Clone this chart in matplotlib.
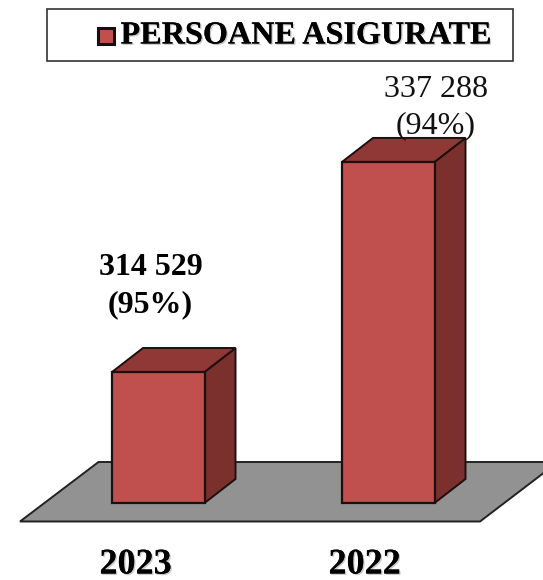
import matplotlib
matplotlib.use('Agg')
import matplotlib.pyplot as plt
import matplotlib.patheffects as pe
from matplotlib.patches import Polygon, Rectangle

plt.rcParams['font.family'] = ['Liberation Serif', 'DejaVu Serif']

years = ['2023', '2022']
values = [314529, 337288]
percents = ['95%', '94%']
series_name = 'PERSOANE ASIGURATE'

FRONT = '#c0504d'
TOP = '#8f3835'
SIDE = '#7c302e'
EDGE = '#1c0f0f'
FLOOR = '#929292'

W, H = 543, 580
base_value = 300336
px_per_unit = 0.00923
base_y = 503
bar_x = [112, 342]
bar_w = 92.5
depth_x, depth_y = 31, 24


def py(pixel_y):
    # pixel row in the picture -> value on the y axis
    return base_value + (base_y - pixel_y) / px_per_unit


fig = plt.figure(figsize=(W / 100, H / 100), dpi=100)
ax = fig.add_axes([0, 0, 1, 1])
ax.set_xlim(0, W)
ax.set_ylim(py(H), py(0))
ax.axis('off')

dy = depth_y / px_per_unit

# floor
ax.add_patch(Polygon([(20, py(521.5)), (480, py(521.5)), (558, py(462)), (98.5, py(462))],
                     facecolor=FLOOR, edgecolor='#222222', linewidth=1.4, zorder=1))

# 3d bars
ax.bar(bar_x, [v - base_value for v in values], width=bar_w, bottom=base_value, align='edge',
       color=FRONT, edgecolor=EDGE, linewidth=1.6, zorder=4)
for x, v in zip(bar_x, values):
    r = x + bar_w
    ax.add_patch(Polygon([(r, base_value), (r + depth_x, base_value + dy), (r + depth_x, v + dy), (r, v)],
                         facecolor=SIDE, edgecolor=EDGE, linewidth=1.4, zorder=3))
    ax.add_patch(Polygon([(x, v), (x + depth_x, v + dy), (r + depth_x, v + dy), (r, v)],
                         facecolor=TOP, edgecolor=EDGE, linewidth=1.4, zorder=3))

shadow = [pe.withSimplePatchShadow(offset=(1, -1), shadow_rgbFace='#666666', alpha=0.35), pe.Normal()]

# value labels
ax.text(150.5, py(286), f'{values[0]:,}'.replace(',', ' ') + f'\n({percents[0]})', ha='center', va='center',
        fontsize=23, fontweight='bold', linespacing=1.36, color='black', zorder=6)
ax.text(435.5, py(107.5), f'{values[1]:,}'.replace(',', ' ') + f'\n({percents[1]})', ha='center', va='center',
        fontsize=23, linespacing=1.36, color='#111111', zorder=6)

# year labels
for x, year in zip([135.5, 364.5], years):
    ax.text(x, py(565), year, ha='center', va='center', fontsize=26, fontweight='bold',
            path_effects=shadow, zorder=6)

# legend box
ax.add_patch(Rectangle((47, py(60.5)), 466, 51.5 / px_per_unit, facecolor='white', edgecolor='#333333',
                       linewidth=1.2, zorder=5))
ax.add_patch(Rectangle((98, py(44)), 16, 16 / px_per_unit, facecolor=FRONT, edgecolor='#111111',
                       linewidth=2.2, zorder=6))
ax.text(120.5, py(36), series_name, ha='left', va='center', fontsize=23.2, fontweight='bold',
        path_effects=shadow, zorder=6)

fig.savefig('out.png', dpi=100)
